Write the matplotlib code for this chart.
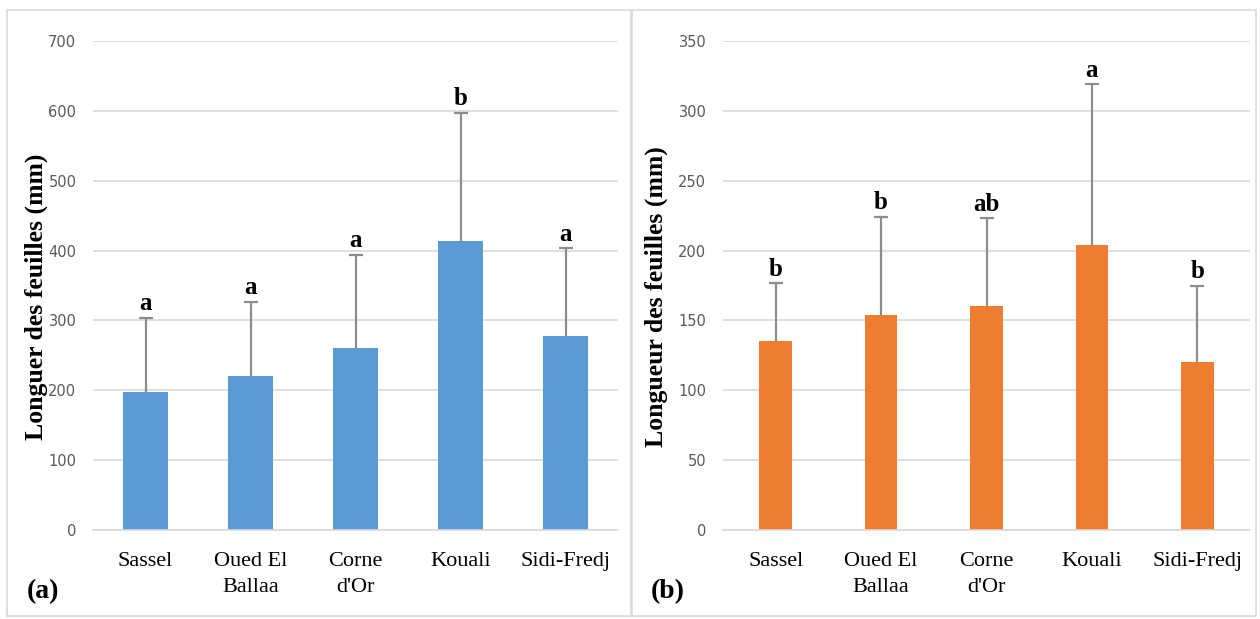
import numpy as np
import matplotlib
matplotlib.use('Agg')
import matplotlib.pyplot as plt
from matplotlib.patches import Rectangle

sites = ['Sassel', 'Oued El\nBallaa', 'Corne\nd\'Or', 'Kouali', 'Sidi-Fredj']

# (a) leaf length, station set 1
mean_a = [197, 221, 260, 413, 277]
sd_a = [107, 105, 134, 184, 126]
groups_a = ['a', 'a', 'a', 'b', 'a']

# (b) leaf length, station set 2
mean_b = [135.5, 154, 160, 204, 120]
sd_b = [41, 70, 63, 115, 55]
groups_b = ['b', 'b', 'ab', 'a', 'b']

serif = 'Liberation Serif'
fig = plt.figure(figsize=(12.6, 6.19), dpi=100)

# panel frames
fig.patches.append(Rectangle((7/1260, 1-616/619), 624/1260, 606/619, transform=fig.transFigure,
                             fill=False, edgecolor='#d9d9d9', lw=1.2))
fig.patches.append(Rectangle((632/1260, 1-616/619), 624/1260, 606/619, transform=fig.transFigure,
                             fill=False, edgecolor='#d9d9d9', lw=1.2))


def panel(rect, means, sds, groups, color, width, ymax, step, ylabel, ylab_x, tag, tag_x):
    ax = fig.add_axes(rect)
    x = np.arange(len(sites))
    ax.bar(x, means, width=width, color=color, zorder=2)
    eb = ax.errorbar(x, means, yerr=[np.zeros(len(sds)), sds], fmt='none', ecolor='#8c8c8c',
                     elinewidth=1.6, capsize=5, capthick=1.6, zorder=3)
    eb[1][0].set_visible(False)  # no cap at the bar top
    for xi, m, s, g in zip(x, means, sds, groups):
        ax.annotate(g, (xi, m + s), xytext=(0, 2), textcoords='offset points', ha='center',
                    va='bottom', fontsize=18, fontweight='bold', family=serif)
    ax.set_xlim(-0.5, len(sites) - 0.5)
    ax.set_ylim(0, ymax)
    ax.set_yticks(np.arange(0, ymax + 1, step))
    ax.set_xticks(x)
    ax.set_xticklabels(sites, family=serif, fontsize=16, linespacing=1.45)
    ax.tick_params(axis='y', length=0, labelsize=10.5, labelcolor='#595959', pad=12)
    ax.tick_params(axis='x', length=0, pad=16)
    ax.grid(axis='y', color='#d9d9d9', lw=1.2, zorder=0)
    for sp in ax.spines.values():
        sp.set_visible(False)
    ax.spines['bottom'].set_visible(True)
    ax.spines['bottom'].set_color('#d9d9d9')
    ax.spines['bottom'].set_linewidth(1.2)
    fig.text(ylab_x, 1 - 297/619, ylabel, rotation=90, ha='center', va='center', fontsize=18.5,
             fontweight='bold', family=serif)
    fig.text(tag_x, 1 - 592/619, tag, ha='left', va='center', fontsize=20,
             fontweight='bold', family=serif)
    return ax


panel([93/1260, 1-530/619, 525/1260, 489/619], mean_a, sd_a, groups_a, '#5b9bd5', 0.42,
      700, 100, 'Longuer des feuilles (mm)', 36/1260, '(a)', 27/1260)
panel([723/1260, 1-530/619, 527/1260, 489/619], mean_b, sd_b, groups_b, '#ed7d31', 0.31,
      350, 50, 'Longueur des feuilles (mm)', 656/1260, '(b)', 651/1260)

fig.savefig('out.png', dpi=100)
